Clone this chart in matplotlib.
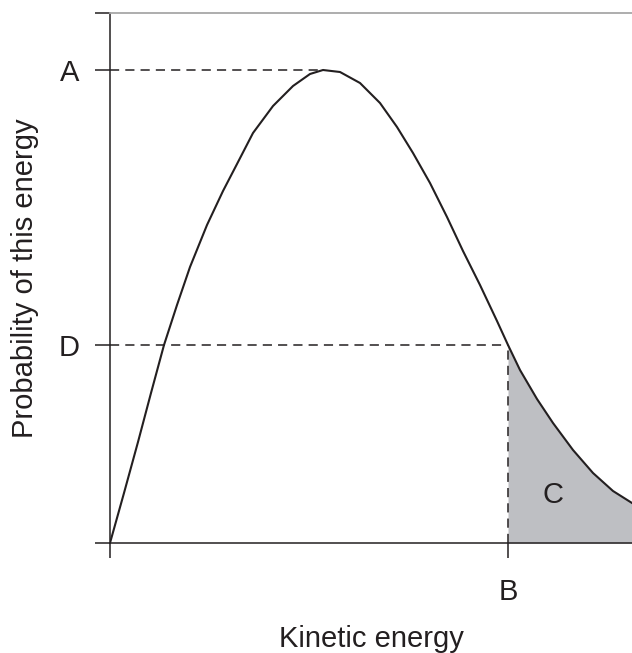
import numpy as np
import matplotlib.pyplot as plt

plt.rcParams['font.family'] = ['Liberation Sans', 'DejaVu Sans']

# curve (energy, probability), arbitrary units
energy = [0, 14, 28, 41, 54, 67, 80, 97, 113, 127, 143, 163, 183, 200, 213,
          230, 250, 270, 287, 303, 320, 337, 353, 370, 387, 398, 410, 427,
          443, 463, 483, 503, 522]
prob = [0, 50, 101, 150, 198, 238, 276, 318, 352, 379, 410, 437, 457, 469,
        473, 471, 460, 440, 416, 390, 360, 326, 292, 258, 222, 198, 173, 144,
        120, 93, 70, 52, 40]

peak_x, peak_y = 213, 473      # A
cut_x, cut_y = 398, 198        # B, D
y_top = 530
x_max = 522

tick_y = [0, cut_y, peak_y, y_top]
tick_y_labels = ["", "D", "A", ""]
tick_x = [0, cut_x]
tick_x_labels = ["", "B"]

ink = "#231f20"

fig = plt.figure(figsize=(6.32, 6.53), dpi=100)
ax = fig.add_axes([110 / 632, 110 / 653, 522 / 632, 530 / 653])

x = np.array(energy, dtype=float)
y = np.array(prob, dtype=float)

ax.plot(x, y, color=ink, lw=1.5, solid_joinstyle="round")

mask = x >= cut_x
ax.fill_between(x[mask], 0, y[mask], color="#bebfc3", lw=0)

dash = dict(color=ink, lw=1.1, dashes=(6, 4))
ax.plot([0, peak_x], [peak_y, peak_y], **dash)
ax.plot([0, cut_x], [cut_y, cut_y], **dash)
ax.plot([cut_x, cut_x], [0, cut_y], **dash)

ax.text(443, 48, "C", fontsize=21, ha="center", va="center", color=ink)

ax.set_xlim(0, x_max)
ax.set_ylim(0, y_top)

ax.set_xticks(tick_x)
ax.set_xticklabels(tick_x_labels)
ax.set_yticks(tick_y)
ax.set_yticklabels(tick_y_labels)
ax.tick_params(axis="both", length=11, width=1.1, color=ink,
               labelsize=21, labelcolor=ink)
ax.tick_params(axis="y", pad=11)
ax.tick_params(axis="x", pad=14)

ax.spines["right"].set_visible(False)
ax.spines["top"].set_color("#a7a7a7")
ax.spines["top"].set_linewidth(1.3)
for s in ("left", "bottom"):
    ax.spines[s].set_color(ink)
    ax.spines[s].set_linewidth(1.1)

ax.set_xlabel("Kinetic energy", fontsize=21, color=ink, labelpad=14)
ax.set_ylabel("Probability of this energy", fontsize=21, color=ink,
              labelpad=14)

fig.savefig("out.png", dpi=100)
plt.close(fig)
